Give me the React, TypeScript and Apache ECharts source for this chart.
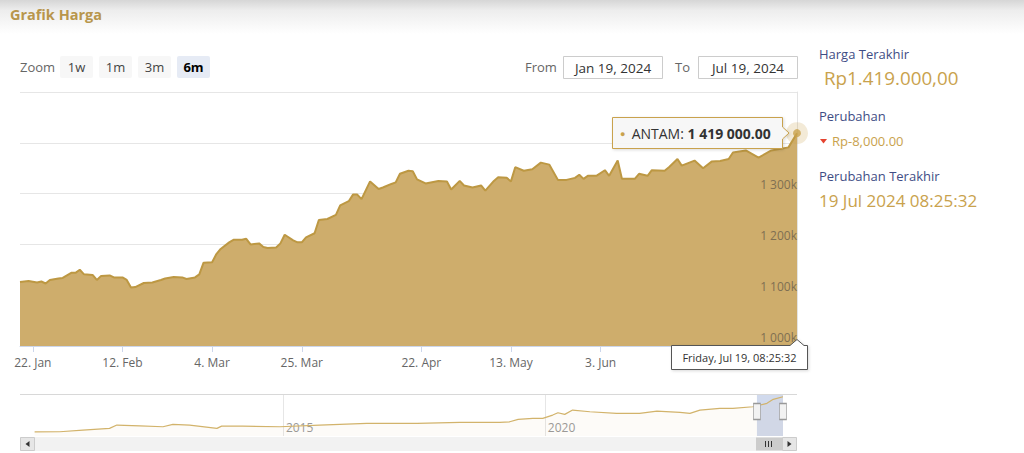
import React, { useEffect, useRef } from "react";
import * as echarts from "echarts";

// ---------- data ----------
const seriesName = "ANTAM";
const rangeStart = "2024-01-19";
const rangeEnd = "2024-07-19";

const priceDates = [
  "2024-01-19", "2024-01-21", "2024-01-23", "2024-01-24", "2024-01-25", "2024-01-26", "2024-01-28", "2024-01-29",
  "2024-01-31", "2024-02-01", "2024-02-02", "2024-02-03", "2024-02-05", "2024-02-06", "2024-02-07", "2024-02-09",
  "2024-02-10", "2024-02-12", "2024-02-13", "2024-02-14", "2024-02-15", "2024-02-17", "2024-02-19", "2024-02-21",
  "2024-02-22", "2024-02-24", "2024-02-26", "2024-02-27", "2024-02-29", "2024-03-01", "2024-03-02", "2024-03-04",
  "2024-03-05", "2024-03-06", "2024-03-08", "2024-03-09", "2024-03-11", "2024-03-12", "2024-03-13", "2024-03-15",
  "2024-03-16", "2024-03-17", "2024-03-19", "2024-03-20", "2024-03-21", "2024-03-23", "2024-03-24", "2024-03-25",
  "2024-03-26", "2024-03-28", "2024-03-29", "2024-03-31", "2024-04-02", "2024-04-03", "2024-04-05", "2024-04-06",
  "2024-04-07", "2024-04-08", "2024-04-10", "2024-04-12", "2024-04-13", "2024-04-15", "2024-04-16", "2024-04-17",
  "2024-04-19", "2024-04-20", "2024-04-21", "2024-04-23", "2024-04-26", "2024-04-28", "2024-04-29", "2024-05-01",
  "2024-05-02", "2024-05-04", "2024-05-06", "2024-05-07", "2024-05-09", "2024-05-10", "2024-05-12", "2024-05-13",
  "2024-05-14", "2024-05-16", "2024-05-18", "2024-05-20", "2024-05-22", "2024-05-24", "2024-05-26", "2024-05-28",
  "2024-05-29", "2024-05-30", "2024-05-31", "2024-06-02", "2024-06-04", "2024-06-05", "2024-06-07", "2024-06-08",
  "2024-06-11", "2024-06-12", "2024-06-14", "2024-06-15", "2024-06-18", "2024-06-19", "2024-06-21", "2024-06-22",
  "2024-06-25", "2024-06-27", "2024-06-29", "2024-07-01", "2024-07-03", "2024-07-04", "2024-07-07", "2024-07-10",
  "2024-07-13", "2024-07-17", "2024-07-19",
];

const priceValues = [
  1126000, 1128000, 1125000, 1127000, 1123000, 1130000, 1133000, 1134000,
  1144000, 1144000, 1150000, 1141000, 1140000, 1130000, 1138000, 1139000,
  1135000, 1135000, 1130000, 1115000, 1116000, 1124000, 1125000, 1130000,
  1133000, 1136000, 1135000, 1132000, 1135000, 1141000, 1164000, 1165000,
  1181000, 1191000, 1204000, 1209000, 1209000, 1211000, 1200000, 1202000,
  1195000, 1193000, 1194000, 1202000, 1219000, 1208000, 1204000, 1204000,
  1214000, 1222000, 1248000, 1250000, 1258000, 1277000, 1285000, 1298000,
  1298000, 1289000, 1324000, 1309000, 1312000, 1319000, 1322000, 1339000,
  1345000, 1344000, 1328000, 1320000, 1325000, 1324000, 1308000, 1325000,
  1316000, 1312000, 1316000, 1306000, 1325000, 1332000, 1331000, 1324000,
  1352000, 1345000, 1348000, 1361000, 1357000, 1327000, 1327000, 1331000,
  1337000, 1329000, 1335000, 1335000, 1346000, 1335000, 1365000, 1329000,
  1329000, 1339000, 1335000, 1346000, 1345000, 1352000, 1368000, 1355000,
  1365000, 1350000, 1363000, 1364000, 1368000, 1381000, 1385000, 1371000,
  1385000, 1391000, 1419000,
];

// tick marks on the x axis; labels shown for those not hidden under the hover label
const xTickDates = [
  "2024-01-22", "2024-02-12", "2024-03-04", "2024-03-25",
  "2024-04-22", "2024-05-13", "2024-06-03", "2024-06-24",
];
const xLabelDates = [
  "2024-01-22", "2024-02-12", "2024-03-04", "2024-03-25",
  "2024-04-22", "2024-05-13", "2024-06-03",
];
const monthNames = ["Jan", "Feb", "Mar", "Apr", "May", "Jun", "Jul", "Aug", "Sep", "Oct", "Nov", "Dec"];
const yMin = 1000000;
const yMax = 1500000;
const yStep = 100000;
// y labels hidden under the series tooltip
const yHiddenLabels = [1400000, 1500000];

// navigator (full history), x in decimal years, y in rupiah
const navYears = [
  2010.26, 2010.74, 2011.18, 2011.69, 2011.83, 2012.27, 2012.71, 2012.9, 2013.22, 2013.74,
  2013.83, 2014.23, 2014.94, 2015.7, 2016.6, 2017.56, 2018.38, 2019.14, 2019.33, 2019.49,
  2019.77, 2019.96, 2020.15, 2020.25, 2020.38, 2020.53, 2020.86, 2021.37, 2021.81, 2022.14,
  2022.58, 2022.77, 2022.96, 2023.34, 2023.59, 2023.97, 2024.24, 2024.36, 2024.546,
];
const navValues = [
  393000, 395000, 443000, 493000, 590000, 569000, 540000, 610000, 590000, 493000,
  560000, 560000, 540000, 590000, 640000, 640000, 669000, 669000, 686000, 757000,
  786000, 786000, 883000, 950000, 903000, 1029000, 980000, 933000, 933000, 1000000,
  962000, 933000, 1029000, 1079000, 1079000, 1126000, 1226000, 1343000, 1419000,
];
const navYearMin = 2010;
const navYearStep = 5;
const navValueMin = 270000;
const navValueMax = 1470000;
const navHandleValue = 987000;

// UI texts
const zoomLabel = "Zoom";
const zoomButtons = ["1w", "1m", "3m", "6m"];
const activeZoom = "6m";
const fromLabel = "From";
const toLabel = "To";
const fromValue = "Jan 19, 2024";
const toValue = "Jul 19, 2024";
const titleText = "Grafik Harga";
const lastPriceTitle = "Harga Terakhir";
const lastPriceText = "Rp1.419.000,00";
const changeTitle = "Perubahan";
const changeText = "Rp-8,000.00";
const lastUpdateTitle = "Perubahan Terakhir";
const lastUpdateText = "19 Jul 2024 08:25:32";
const hoverTimeText = "Friday, Jul 19, 08:25:32";

// ---------- helpers ----------
function parseDay(s: string) {
  const [y, m, d] = s.split("-").map(Number);
  return Date.UTC(y, m - 1, d);
}
function buildDays(a: string, b: string) {
  const out: string[] = [];
  for (let t = parseDay(a); t <= parseDay(b); t += 86400000) {
    out.push(new Date(t).toISOString().slice(0, 10));
  }
  return out;
}
function yearFrac(s: string) {
  const y = Number(s.slice(0, 4));
  const start = Date.UTC(y, 0, 1);
  const end = Date.UTC(y + 1, 0, 1);
  return y + (parseDay(s) - start) / (end - start);
}
function fmtAxisDate(v: string) {
  return `${Number(v.slice(8, 10))}. ${monthNames[Number(v.slice(5, 7)) - 1]}`;
}
function fmtK(v: number) {
  const k = Math.round(v / 1000);
  return `${Math.floor(k / 1000)} ${String(k % 1000).padStart(3, "0")}k`;
}
function fmtSpaced(v: number) {
  return String(Math.round(v)).replace(/\B(?=(\d{3})+(?!\d))/g, " ") + ".00";
}

const FONT = '"Open Sans", "Noto Sans", sans-serif';
const GOLD = "#C9A24D";
const NAVY = "#3f4d85";

function txt(x: number, y: number, text: string, o: any = {}) {
  return {
    type: "text",
    x,
    y,
    z: o.z ?? 50,
    style: {
      text,
      fill: o.fill ?? "#333",
      fontSize: o.size ?? 13,
      fontWeight: o.weight ?? "normal",
      fontFamily: FONT,
      textAlign: o.align ?? "left",
      align: o.align ?? "left",
      textVerticalAlign: "middle",
      verticalAlign: "middle",
    },
  };
}

export default function App() {
  const ref = useRef<HTMLDivElement>(null);

  useEffect(() => {
    if (!ref.current) return;
    const chart = echarts.init(ref.current, null, { renderer: "svg" });

    const days = buildDays(rangeStart, rangeEnd);
    const mainData = priceDates.map((d, i) => [d, priceValues[i]]);
    const lastDate = priceDates[priceDates.length - 1];
    const lastValue = priceValues[priceValues.length - 1];
    const navData = navYears.map((y, i) => [y, navValues[i]]);
    const selStart = yearFrac(rangeStart);
    const selEnd = yearFrac(rangeEnd);
    const tickSet = new Set(xTickDates);
    const labelSet = new Set(xLabelDates);

    const graphics: any[] = [];
    // header band
    graphics.push({
      type: "rect",
      z: 0,
      shape: { x: 0, y: 0, width: 1024, height: 34 },
      style: {
        fill: {
          type: "linear", x: 0, y: 0, x2: 0, y2: 1,
          colorStops: [
            { offset: 0, color: "#d6d6d6" },
            { offset: 0.3, color: "#ededed" },
            { offset: 1, color: "#ffffff" },
          ],
        },
      },
    });
    graphics.push(txt(10, 14, titleText, { fill: "#B8964C", size: 14.5, weight: "bold" }));

    // zoom buttons
    graphics.push(txt(20, 67, zoomLabel, { fill: "#666" }));
    zoomButtons.forEach((b, i) => {
      const bx = 60 + i * 39;
      const active = b === activeZoom;
      graphics.push({
        type: "rect", z: 40,
        shape: { x: bx, y: 56, width: 33, height: 22, r: 2 },
        style: { fill: active ? "#e6ebf5" : "#f7f7f7" },
      });
      graphics.push(txt(bx + 16.5, 67, b, { fill: active ? "#000" : "#444", weight: active ? "bold" : "normal", align: "center" }));
    });

    // from / to inputs
    graphics.push(txt(525, 66.5, fromLabel, { fill: "#666" }));
    graphics.push({ type: "rect", z: 40, shape: { x: 563.5, y: 56.5, width: 99, height: 22 }, style: { fill: "#fff", stroke: "#cccccc", lineWidth: 1 } });
    graphics.push(txt(613, 67.5, fromValue, { fill: "#333", size: 13.5, align: "center" }));
    graphics.push(txt(675, 66.5, toLabel, { fill: "#666" }));
    graphics.push({ type: "rect", z: 40, shape: { x: 698.5, y: 56.5, width: 99, height: 22 }, style: { fill: "#fff", stroke: "#cccccc", lineWidth: 1 } });
    graphics.push(txt(748, 67.5, toValue, { fill: "#333", size: 13.5, align: "center" }));

    // right info panel
    graphics.push(txt(819, 54, lastPriceTitle, { fill: NAVY }));
    graphics.push(txt(824, 78, lastPriceText, { fill: GOLD, size: 18.8 }));
    graphics.push(txt(819, 116, changeTitle, { fill: NAVY }));
    graphics.push({
      type: "polygon", z: 50,
      shape: { points: [[820, 139], [827, 139], [823.5, 143.5]] },
      style: { fill: "#e5432f" },
    });
    graphics.push(txt(832, 141, changeText, { fill: GOLD, size: 13 }));
    graphics.push(txt(819, 176, lastUpdateTitle, { fill: NAVY }));
    graphics.push(txt(819, 200, lastUpdateText, { fill: GOLD, size: 17 }));

    // series tooltip (callout)
    graphics.push({
      type: "polygon", z: 90,
      shape: { points: [[612.5, 117.5], [782.5, 117.5], [782.5, 127], [789, 133], [782.5, 139], [782.5, 148.5], [612.5, 148.5]] },
      style: { fill: "rgba(247,247,247,0.93)", stroke: GOLD, lineWidth: 1, shadowBlur: 3, shadowColor: "rgba(0,0,0,0.15)", shadowOffsetX: 1, shadowOffsetY: 1 },
    });
    graphics.push({
      type: "text", x: 620, y: 133, z: 91,
      style: {
        text: `{d|●}  {n|${seriesName}: }{b|${fmtSpaced(lastValue)}}`,
        textVerticalAlign: "middle", verticalAlign: "middle",
        fontFamily: FONT,
        rich: {
          d: { fill: GOLD, color: GOLD, fontSize: 9, fontFamily: FONT },
          n: { fill: "#333", color: "#333", fontSize: 14, fontFamily: FONT },
          b: { fill: "#333", color: "#333", fontSize: 14, fontWeight: "bold", fontFamily: FONT },
        },
      },
    });

    // x hover label
    graphics.push({
      type: "polygon", z: 90,
      shape: { points: [[671.5, 345.5], [790, 345.5], [797, 339.5], [804, 345.5], [807.5, 345.5], [807.5, 369.5], [671.5, 369.5]] },
      style: { fill: "#ffffff", stroke: "#555", lineWidth: 1, shadowBlur: 3, shadowColor: "rgba(0,0,0,0.15)", shadowOffsetX: 1, shadowOffsetY: 1 },
    });
    graphics.push(txt(739.5, 357.5, hoverTimeText, { fill: "#333", size: 11, align: "center", z: 91 }));

    // navigator outline
    graphics.push({ type: "line", z: 30, shape: { x1: 20, y1: 394.5, x2: 797, y2: 394.5 }, style: { stroke: "#d8d8d8", lineWidth: 1 } });

    // scrollbar
    graphics.push({ type: "rect", z: 30, shape: { x: 20, y: 437, width: 777, height: 14 }, style: { fill: "#f2f2f2" } });
    graphics.push({ type: "rect", z: 31, shape: { x: 20.5, y: 437.5, width: 14, height: 13 }, style: { fill: "#e6e6e6", stroke: "#cccccc", lineWidth: 1 } });
    graphics.push({ type: "polygon", z: 32, shape: { points: [[29.5, 441], [29.5, 447], [25.5, 444]] }, style: { fill: "#333" } });
    graphics.push({ type: "rect", z: 31, shape: { x: 782.5, y: 437.5, width: 14, height: 13 }, style: { fill: "#e6e6e6", stroke: "#cccccc", lineWidth: 1 } });
    graphics.push({ type: "polygon", z: 32, shape: { points: [[787.5, 441], [787.5, 447], [791.5, 444]] }, style: { fill: "#333" } });
    graphics.push({ type: "rect", z: 31, shape: { x: 756, y: 437.5, width: 26, height: 13 }, style: { fill: "#cccccc" } });
    [765.5, 768.5, 771.5].forEach((lx) =>
      graphics.push({ type: "line", z: 32, shape: { x1: lx, y1: 441, x2: lx, y2: 447 }, style: { stroke: "#333", lineWidth: 1 } })
    );

    const option: any = {
      animation: false,
      textStyle: { fontFamily: FONT },
      grid: [
        { left: 20, top: 92, width: 777, height: 254 },
        { left: 21, top: 395, width: 762, height: 41 },
      ],
      xAxis: [
        {
          gridIndex: 0,
          type: "category",
          data: days,
          boundaryGap: false,
          axisLine: { show: true, lineStyle: { color: "#ccd6eb" } },
          axisTick: {
            show: true,
            interval: (_i: number, v: string) => tickSet.has(v),
            length: 6,
            lineStyle: { color: "#ccd6eb" },
          },
          axisLabel: {
            interval: (_i: number, v: string) => labelSet.has(v),
            formatter: (v: string) => fmtAxisDate(v),
            color: "#666",
            fontSize: 12,
            margin: 10,
            fontFamily: FONT,
          },
          splitLine: { show: false },
        },
        {
          gridIndex: 1,
          type: "value",
          min: navYearMin,
          max: selEnd,
          interval: navYearStep,
          axisLine: { show: false },
          axisTick: { show: false },
          splitLine: { show: true, showMinLine: false, showMaxLine: false, lineStyle: { color: "#e6e6e6" } },
          axisLabel: {
            inside: true,
            margin: 3,
            align: "left",
            padding: [0, 0, 0, 3],
            color: "#999",
            fontSize: 12,
            fontFamily: FONT,
            showMinLabel: false,
            showMaxLabel: false,
            formatter: (v: number) => (Math.abs(v % navYearStep) < 1e-6 && v > navYearMin ? String(Math.round(v)) : ""),
          },
        },
      ],
      yAxis: [
        {
          gridIndex: 0,
          type: "value",
          min: yMin,
          max: yMax,
          interval: yStep,
          position: "right",
          axisLine: { show: true, lineStyle: { color: "#e3e3e3" } },
          axisTick: { show: false },
          axisLabel: { show: false },
          splitLine: { show: true, lineStyle: { color: "#e6e6e6" } },
        },
        {
          gridIndex: 0,
          type: "value",
          min: yMin,
          max: yMax,
          interval: yStep,
          position: "right",
          z: 10,
          axisLine: { show: false },
          axisTick: { show: false },
          splitLine: { show: false },
          axisLabel: {
            inside: true,
            margin: 0,
            verticalAlign: "bottom",
            padding: [0, 0, 3, 0],
            color: "#7f6f52",
            fontSize: 12,
            fontFamily: FONT,
            formatter: (v: number) => (yHiddenLabels.some((h) => Math.abs(h - v) < 1) ? "" : fmtK(v)),
          },
        },
        {
          gridIndex: 1,
          type: "value",
          min: navValueMin,
          max: navValueMax,
          show: false,
          splitLine: { show: false },
        },
      ],
      series: [
        {
          name: seriesName,
          type: "line",
          xAxisIndex: 0,
          yAxisIndex: 0,
          data: mainData,
          symbol: "none",
          lineStyle: { color: "#BD9843", width: 2 },
          itemStyle: { color: "#BD9843" },
          areaStyle: { color: "#CEAD6C", opacity: 1 },
          z: 2,
        },
        {
          type: "scatter",
          xAxisIndex: 0,
          yAxisIndex: 0,
          data: [[lastDate, lastValue]],
          symbolSize: 22,
          itemStyle: { color: "rgba(201,162,77,0.28)" },
          clip: false,
          silent: true,
          z: 4,
        },
        {
          type: "scatter",
          xAxisIndex: 0,
          yAxisIndex: 0,
          data: [[lastDate, lastValue]],
          symbolSize: 8,
          itemStyle: { color: GOLD },
          clip: false,
          silent: true,
          z: 5,
        },
        {
          type: "line",
          xAxisIndex: 1,
          yAxisIndex: 2,
          data: navData,
          symbol: "none",
          lineStyle: { color: "#D2B36B", width: 1.2 },
          areaStyle: { color: "rgba(210,179,107,0.07)" },
          markArea: {
            silent: true,
            itemStyle: { color: "rgba(102,133,194,0.3)" },
            data: [[{ xAxis: selStart }, { xAxis: selEnd }]],
          },
          markPoint: {
            silent: true,
            symbol: "rect",
            symbolSize: [7, 16],
            label: { show: false },
            itemStyle: { color: "#f2f2f2", borderColor: "#999", borderWidth: 1 },
            data: [{ coord: [selStart, navHandleValue] }, { coord: [selEnd, navHandleValue] }],
          },
          z: 2,
        },
      ],
      graphic: { elements: graphics },
    };

    chart.setOption(option);
    return () => chart.dispose();
  }, []);

  return (
    <div
      ref={ref}
      style={{ position: "absolute", left: 0, top: 0, width: 1024, height: 453, background: "#fff" }}
    />
  );
}
